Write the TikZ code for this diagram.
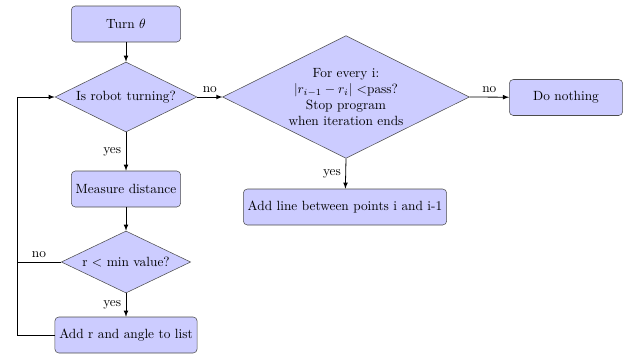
\documentclass[tikz,border=0pt]{standalone}
\usepackage{amsmath,amssymb}
\usepackage{tikz}
\usetikzlibrary{positioning,shapes.geometric}
\usepackage{xcolor}

\begin{document}
\begin{tikzpicture}[x=0.75pt,y=-0.75pt,>=latex,
  block/.style={rectangle,draw=black!70,fill=blue!20,rounded corners=3pt,
    minimum width=82pt,minimum height=27pt,inner sep=3.3pt,align=center},
  decision/.style={diamond,draw=black!70,fill=blue!20,aspect=2,inner sep=0pt,align=center},
  line/.style={draw,semithick}]
\useasboundingbox (0,0) rectangle (624,354);
\node [block] (turn) at (126,24) {Turn $\theta$};
\node [decision,minimum width=106.5pt,minimum height=52.5pt] (isturn) at (126,97) {Is robot turning?};
\node [block] (measure) at (126,189) {Measure distance};
\node [decision,minimum width=97pt,minimum height=46.5pt] (rmin) at (126,262) {r $<$ min value?};
\node [block] (addr) at (126,335) {Add r and angle to list};
\node [decision,minimum width=185pt,minimum height=92pt] (every) at (346,97)
  {For every i:\\ $|r_{i-1}-r_i|$ <pass?\\ Stop program\\ when iteration ends};
\node [block,minimum width=146pt] (addline) at (345,207) {Add line between points i and i-1};
\node [block,minimum width=85pt] (nothing) at (566,97.5) {Do nothing};
\coordinate (loopb) at (17,335);
\draw [line,->] (turn) -- (isturn);
\draw [line,->] (isturn) -- node[left]{yes} (measure);
\draw [line,->] (measure) -- (rmin);
\draw [line,->] (rmin) -- node[left]{yes} (addr);
\draw [line,->] (addr.west) -- (loopb) |- (isturn.west);
\draw [line] (rmin.west) -- node[above]{no} (rmin.west -| loopb);
\draw [line,->] (isturn.east) -- node[above]{no} (every.west);
\draw [line,->] (every.south) -- node[left]{yes} (addline);
\draw [line,->] (every.east) -- node[above]{no} (nothing);
\end{tikzpicture}
\end{document}
